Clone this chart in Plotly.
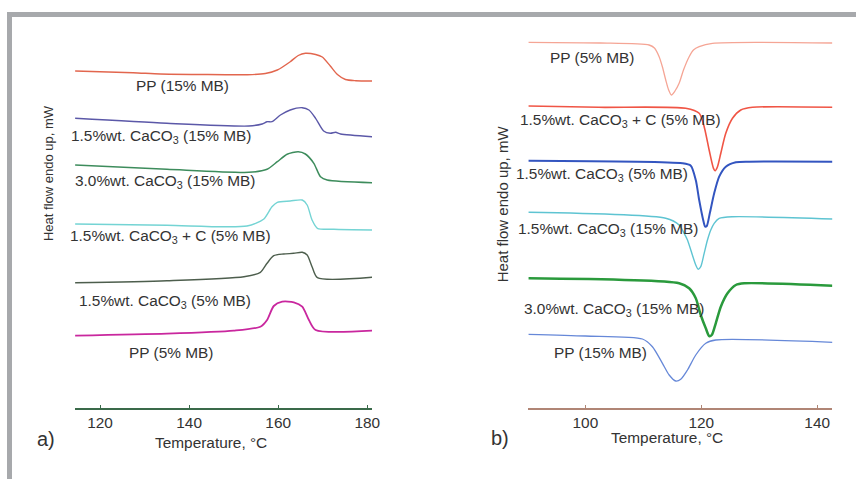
import plotly.graph_objects as go

W, H = 864, 479
SX = 1.01  # horizontal compensation observed in the rendered picture

# ---------- Panel a) melting (heating) curves ----------
a_pp15_T = [114.4, 127.4, 133.5, 142.5, 153.1, 157.1, 159.8, 162.7, 164.5, 166.1, 168.4, 169.9, 171.7, 173.3, 175.1, 177.4, 181.2]
a_pp15_Q = [337, 335.3, 334, 333.5, 333.3, 334.5, 338, 346.3, 352.5, 354.7, 353.5, 351, 342, 333.5, 328.5, 327.3, 327]

a_ca15_15_T = [114.4, 135.0, 153.4, 156.4, 157.5, 158.6, 160.5, 162.7, 165.4, 166.9, 168.4, 170.2, 171.7, 172.9, 174.0, 181.1]
a_ca15_15_Q = [289.7, 284.7, 282, 284, 286.3, 286.3, 293, 298, 300.3, 298, 289.7, 277, 274.7, 275.7, 274, 271.3]

a_ca30_15_T = [114.4, 135.0, 153.4, 157.5, 159.8, 162.0, 164.5, 166.1, 168.0, 169.5, 171.0, 181.1]
a_ca30_15_Q = [243, 238.7, 235.7, 238.7, 246.3, 253.7, 256.3, 254, 244.7, 231.3, 228, 225.3]

a_cac_5_T = [114.4, 135.0, 153.0, 156.7, 158.6, 159.8, 162.7, 165.4, 166.5, 167.6, 168.8, 172.5, 181.1]
a_cac_5_Q = [184, 182.7, 182, 188.7, 201.3, 205.7, 207, 208, 203, 188, 179.7, 178.7, 178]

a_ca15_5_T = [114.4, 135.0, 152.3, 156.0, 157.5, 159.0, 161.2, 163.5, 165.4, 166.5, 167.6, 168.8, 181.1]
a_ca15_5_Q = [125.3, 127.3, 131.3, 135.7, 144.7, 152.3, 154, 154.7, 155.7, 153, 141.3, 130.3, 130.7]

a_pp5_T = [114.4, 135.0, 150.0, 156.0, 157.5, 159.0, 160.9, 163.5, 165.4, 166.9, 168.4, 181.1]
a_pp5_Q = [72.3, 74.3, 77.3, 81.3, 88, 102, 106.3, 105.7, 101.3, 88, 78, 77.3]

# ---------- Panel b) crystallization (cooling) curves ----------
b_pp5_T = [90.16, 102.59, 111.0, 111.92, 112.73, 113.30, 113.87, 114.34, 114.85, 115.46, 116.18, 116.93, 117.91, 118.65, 119.64, 121.93, 142.66]
b_pp5_Q = [365.7, 365, 363, 360, 351.3, 341, 328, 318.5, 313, 317, 324.7, 338, 351.3, 358, 361.3, 364.7, 365]

b_cac_5_T = [90.16, 102.3, 117.32, 119.64, 120.50, 121.36, 122.11, 122.40, 122.80, 123.37, 124.23, 125.39, 126.82, 128.84, 142.7]
b_cac_5_Q = [302, 300.7, 299.7, 294.7, 281.3, 258, 239.7, 237.3, 241.3, 254.7, 274.7, 289.7, 298, 300.7, 300.7]

b_ca15_5_T = [90.16, 116.75, 118.19, 119.05, 119.64, 120.33, 120.67, 120.95, 121.47, 122.23, 123.09, 124.23, 125.96, 128.27, 142.7]
b_ca15_5_Q = [247.3, 244.7, 242.3, 228, 208, 188, 181.3, 182, 194.7, 214.7, 231.3, 241.3, 245.7, 246.3, 246.3]

b_ca15_15_T = [90.16, 113.87, 116.18, 117.05, 117.62, 118.19, 119.05, 119.46, 119.91, 120.50, 121.07, 121.64, 122.23, 123.09, 125.39, 142.7]
b_ca15_15_Q = [195.7, 189.7, 183, 174.7, 168, 158, 143, 138.7, 141.3, 154.7, 168, 178, 184.7, 189.7, 191.3, 189]

b_ca30_15_T = [90.16, 116.18, 117.91, 119.05, 119.91, 120.78, 121.36, 121.81, 122.50, 123.37, 124.53, 125.96, 127.41, 142.66]
b_ca30_15_Q = [129.7, 124.7, 119.7, 109.7, 93, 79.7, 72, 73, 84.7, 101.3, 114.7, 123, 124.7, 122.3]

b_pp15_T = [90.16, 100.0, 109.84, 111.57, 113.30, 114.46, 115.60, 116.46, 117.62, 119.05, 120.78, 122.50, 142.7]
b_pp15_Q = [73.7, 72, 69, 61.3, 44.7, 33, 27, 28.7, 38, 53, 64.7, 68, 65.7]

a_ticks = [120, 140, 160, 180]
b_ticks = [100, 120, 140]

FONT = "Liberation Sans, Arial, sans-serif"
TXT = "#333333"
FS = 15.4


def px(x):
    return min(1.0, x * SX / W)


def py(y):
    return 1 - y / H


fig = go.Figure()

series_a = [
    (a_pp15_T, a_pp15_Q, "#e2664e", 1.4),
    (a_ca15_15_T, a_ca15_15_Q, "#5b58a8", 1.4),
    (a_ca30_15_T, a_ca30_15_Q, "#3d8c5c", 1.5),
    (a_cac_5_T, a_cac_5_Q, "#74d4d4", 1.4),
    (a_ca15_5_T, a_ca15_5_Q, "#4d5e4d", 1.4),
    (a_pp5_T, a_pp5_Q, "#c9279e", 1.8),
]
for t, q, c, w in series_a:
    fig.add_trace(go.Scatter(x=t, y=q, mode="lines", xaxis="x", yaxis="y",
                             line=dict(color=c, width=w, shape="spline", smoothing=0.7),
                             showlegend=False, hoverinfo="skip"))

series_b = [
    (b_pp5_T, b_pp5_Q, "#f5a595", 1.3),
    (b_cac_5_T, b_cac_5_Q, "#f05545", 1.6),
    (b_ca15_5_T, b_ca15_5_Q, "#3355c0", 2.0),
    (b_ca15_15_T, b_ca15_15_Q, "#5ec4d2", 1.4),
    (b_ca30_15_T, b_ca30_15_Q, "#2a9a3c", 2.5),
    (b_pp15_T, b_pp15_Q, "#6688d8", 1.3),
]
for t, q, c, w in series_b:
    fig.add_trace(go.Scatter(x=t, y=q, mode="lines", xaxis="x2", yaxis="y2",
                             line=dict(color=c, width=w, shape="spline", smoothing=0.7),
                             showlegend=False, hoverinfo="skip"))

ydom = [py(408), py(20)]
fig.update_layout(
    width=W, height=H,
    margin=dict(l=0, r=0, t=0, b=0),
    paper_bgcolor="white", plot_bgcolor="rgba(0,0,0,0)",
    font=dict(family=FONT, color=TXT, size=FS),
    xaxis=dict(domain=[px(75), px(371.7)], range=[114.38, 181.05],
               tickvals=a_ticks, showline=True, linecolor="#3a6a4a", linewidth=1.5,
               ticks="inside", ticklen=3, tickcolor="#3a6a4a", showgrid=False,
               zeroline=False, tickfont=dict(size=FS, color=TXT), anchor="y"),
    yaxis=dict(domain=ydom, range=[0, 388], visible=False, anchor="x"),
    xaxis2=dict(domain=[px(528), px(831.7)], range=[90.16, 142.6],
                tickvals=b_ticks, showline=True, linecolor="#b08575", linewidth=1.5,
                ticks="inside", ticklen=3, tickcolor="#b08575", showgrid=False,
                zeroline=False, tickfont=dict(size=FS, color=TXT), anchor="y2"),
    yaxis2=dict(domain=ydom, range=[0, 388], visible=False, anchor="x2"),
)

# gray frame (top and left)
fig.add_shape(type="rect", xref="paper", yref="paper", x0=px(7), x1=1.0, y0=py(17), y1=py(12),
              fillcolor="#a7a9ac", line_width=0, layer="below")
fig.add_shape(type="rect", xref="paper", yref="paper", x0=px(7), x1=px(12), y0=0.0, y1=py(12),
              fillcolor="#a7a9ac", line_width=0, layer="below")

CA = "1.5%wt. CaCO<sub>3</sub>"
CA3 = "3.0%wt. CaCO<sub>3</sub>"
labels = [
    ("PP (15% MB)", 182, 85),
    (CA + " (15% MB)", 161, 137),
    (CA3 + " (15% MB)", 165, 181),
    (CA + " + C (5% MB)", 170, 236),
    (CA + " (5% MB)", 165, 301),
    ("PP (5% MB)", 171, 352),
    ("PP (5% MB)", 592, 57),
    (CA + " + C (5% MB)", 620, 121),
    (CA + " (5% MB)", 602, 175),
    (CA + " (15% MB)", 608, 230),
    (CA3 + " (15% MB)", 614, 309),
    ("PP (15% MB)", 600, 352),
]


def note(txt, x, y, size=FS, angle=0):
    fig.add_annotation(text=txt, x=px(x), y=py(y), xref="paper", yref="paper",
                       showarrow=False, textangle=angle, font=dict(size=size, color=TXT),
                       xanchor="center", yanchor="middle")


for txt, x, y in labels:
    note(txt, x, y)

note("Heat flow endo up, mW", 48, 173, size=13, angle=-90)
note("Heat flow endo up, mW", 503, 204, size=15, angle=-90)
note("Temperature, °C", 211, 442)
note("Temperature, °C", 667, 437)
note("a)", 46, 439, size=20)
note("b)", 500, 438, size=20)

fig.write_html("out.html")
